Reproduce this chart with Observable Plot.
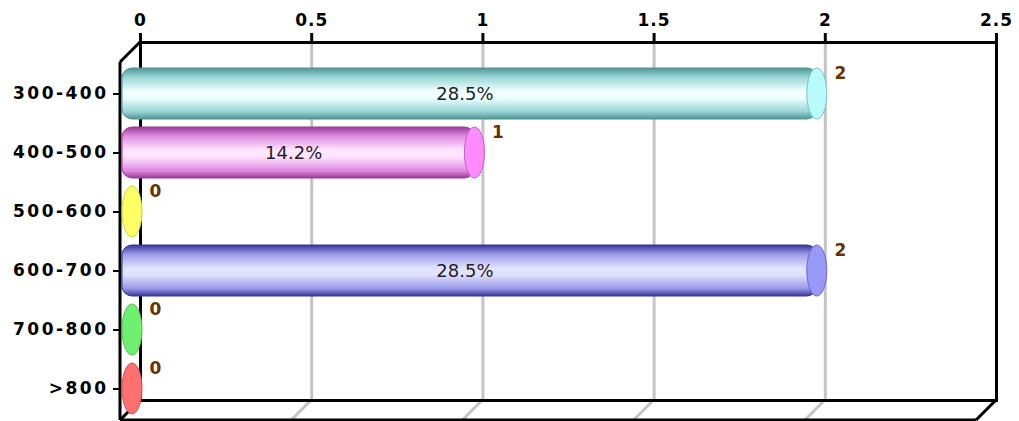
<!DOCTYPE html>
<html><head><meta charset="utf-8">
<script src="https://cdn.jsdelivr.net/npm/d3@7"></script>
<script src="https://cdn.jsdelivr.net/npm/@observablehq/plot@0.6"></script>
<style>
body{margin:0;background:#fff}
svg{display:block}
#chart g[aria-label="y-axis tick label"] text{letter-spacing:2.5px}
#chart g[aria-label="x-axis tick label"] text{letter-spacing:1px}
</style>
</head><body><div id="chart"></div>
<script>
// ---- data ----
const categories = ["300-400", "400-500", "500-600", "600-700", "700-800", ">800"];
const counts = [2, 1, 0, 2, 0, 0];
const percents = [28.5, 14.2, 0, 28.5, 0, 0];
const xTicks = [0, 0.5, 1, 1.5, 2, 2.5];

// ---- colours ----
const edgeColors = ["#4f9494", "#9a3a9a", "#a0a030", "#35359a", "#40a040", "#c04040"];
const midColors = ["#f0ffff", "#ffe4ff", "#ffffd0", "#e2e2ff", "#e0ffe0", "#ffe0e0"];
const shadeColors = ["#9ad6d6", "#e08ce0", "#f0f080", "#9a9ae8", "#90f090", "#f09090"];
const capFill = ["#b8fcfc", "#ff8cff", "#ffff66", "#9898f8", "#70f070", "#ff7070"];
const capStroke = ["#7cc0c0", "#c060c0", "#d0d040", "#6a6ac8", "#50c050", "#d05050"];

const data = categories.map((c, i) => ({cat: c, value: counts[i], pct: percents[i], idx: i}));
const depth = 20;

const plot = Plot.plot({
  width: 1019, height: 421,
  marginLeft: 140, marginRight: 23, marginTop: 42, marginBottom: 21,
  x: {domain: [0, 2.5], axis: null},
  y: {domain: categories, paddingInner: 0.13, paddingOuter: 0.05, axis: null},
  color: {type: "identity"},
  style: {fontFamily: "DejaVu Sans", fontWeight: "bold", background: "white", overflow: "visible", color: "black"},
  marks: [
    Plot.ruleX(xTicks.filter(v => v > 0 && v < 2.5), {stroke: "#c4c4c4", strokeWidth: 3}),
    Plot.frame({stroke: "black", strokeWidth: 3}),
    Plot.axisX({anchor: "top", label: null, ticks: xTicks, tickSize: 10, tickPadding: 7, strokeWidth: 3, fontSize: 17, tickFormat: d => String(d)}),
    Plot.axisY({anchor: "left", label: null, tickSize: 6, tickPadding: 5, dx: -21, dy: depth, strokeWidth: 2, fontSize: 17}),
    Plot.barX(data.filter(d => d.value > 0), {
      x: "value", y: "cat", fill: d => `url(#cyl${d.idx})`, stroke: d => edgeColors[d.idx], strokeWidth: 1,
      insetLeft: -10, rx: 10, dx: -8, dy: depth
    }),
    Plot.barX(data, {
      x1: "value", x2: "value", y: "cat", fill: d => capFill[d.idx], stroke: d => capStroke[d.idx], strokeWidth: 1,
      insetLeft: -10, insetRight: -10, rx: 10, ry: 26, dx: -8, dy: depth
    }),
    Plot.text(data.filter(d => d.value > 0), {
      x: d => d.value / 2, y: "cat", text: d => d.pct + "%", dx: -18, dy: depth,
      fontWeight: "normal", fontSize: 18, fill: "#222"
    }),
    Plot.text(data, {
      x: "value", y: "cat", text: d => String(d.value), dx: 15, dy: 0,
      fontSize: 17, fill: "#663300"
    })
  ]
});

const svg = d3.select(plot);
// gradients for the cylinders
const defs = svg.insert("defs", ":first-child");
data.forEach(d => {
  const g = defs.append("linearGradient").attr("id", `cyl${d.idx}`)
    .attr("x1", 0).attr("y1", 0).attr("x2", 0).attr("y2", 1);
  [[0, edgeColors[d.idx]], [0.18, shadeColors[d.idx]], [0.45, midColors[d.idx]], [0.58, midColors[d.idx]],
   [0.85, shadeColors[d.idx]], [1, edgeColors[d.idx]]]
    .forEach(([o, c]) => g.append("stop").attr("offset", o).attr("stop-color", c));
});

// 3D box edges, positioned with the plot's own x scale
const xs = plot.scale("x");
const X = v => xs.apply(v);
const boxTop = 42, boxBottom = 400;
const deco = svg.insert("g", "defs + *");
const line = (x1, y1, x2, y2, stroke, w) =>
  deco.append("line").attr("x1", x1).attr("y1", y1).attr("x2", x2).attr("y2", y2)
    .attr("stroke", stroke).attr("stroke-width", w);
xTicks.filter(v => v > 0 && v < 2.5).forEach(v => line(X(v), boxBottom, X(v) - depth, boxBottom + depth, "#c4c4c4", 3));
line(X(0), boxTop, X(0) - depth, boxTop + depth, "black", 3);
line(X(0) - depth, boxTop + depth, X(0) - depth, boxBottom + depth, "black", 3);
line(X(0), boxBottom, X(0) - depth, boxBottom + depth, "black", 3);
line(X(2.5), boxBottom, X(2.5) - depth, boxBottom + depth, "black", 3);
line(X(0) - depth, boxBottom + depth, X(2.5) - depth, boxBottom + depth, "black", 3);

document.getElementById("chart").appendChild(plot);
</script>
</body></html>
